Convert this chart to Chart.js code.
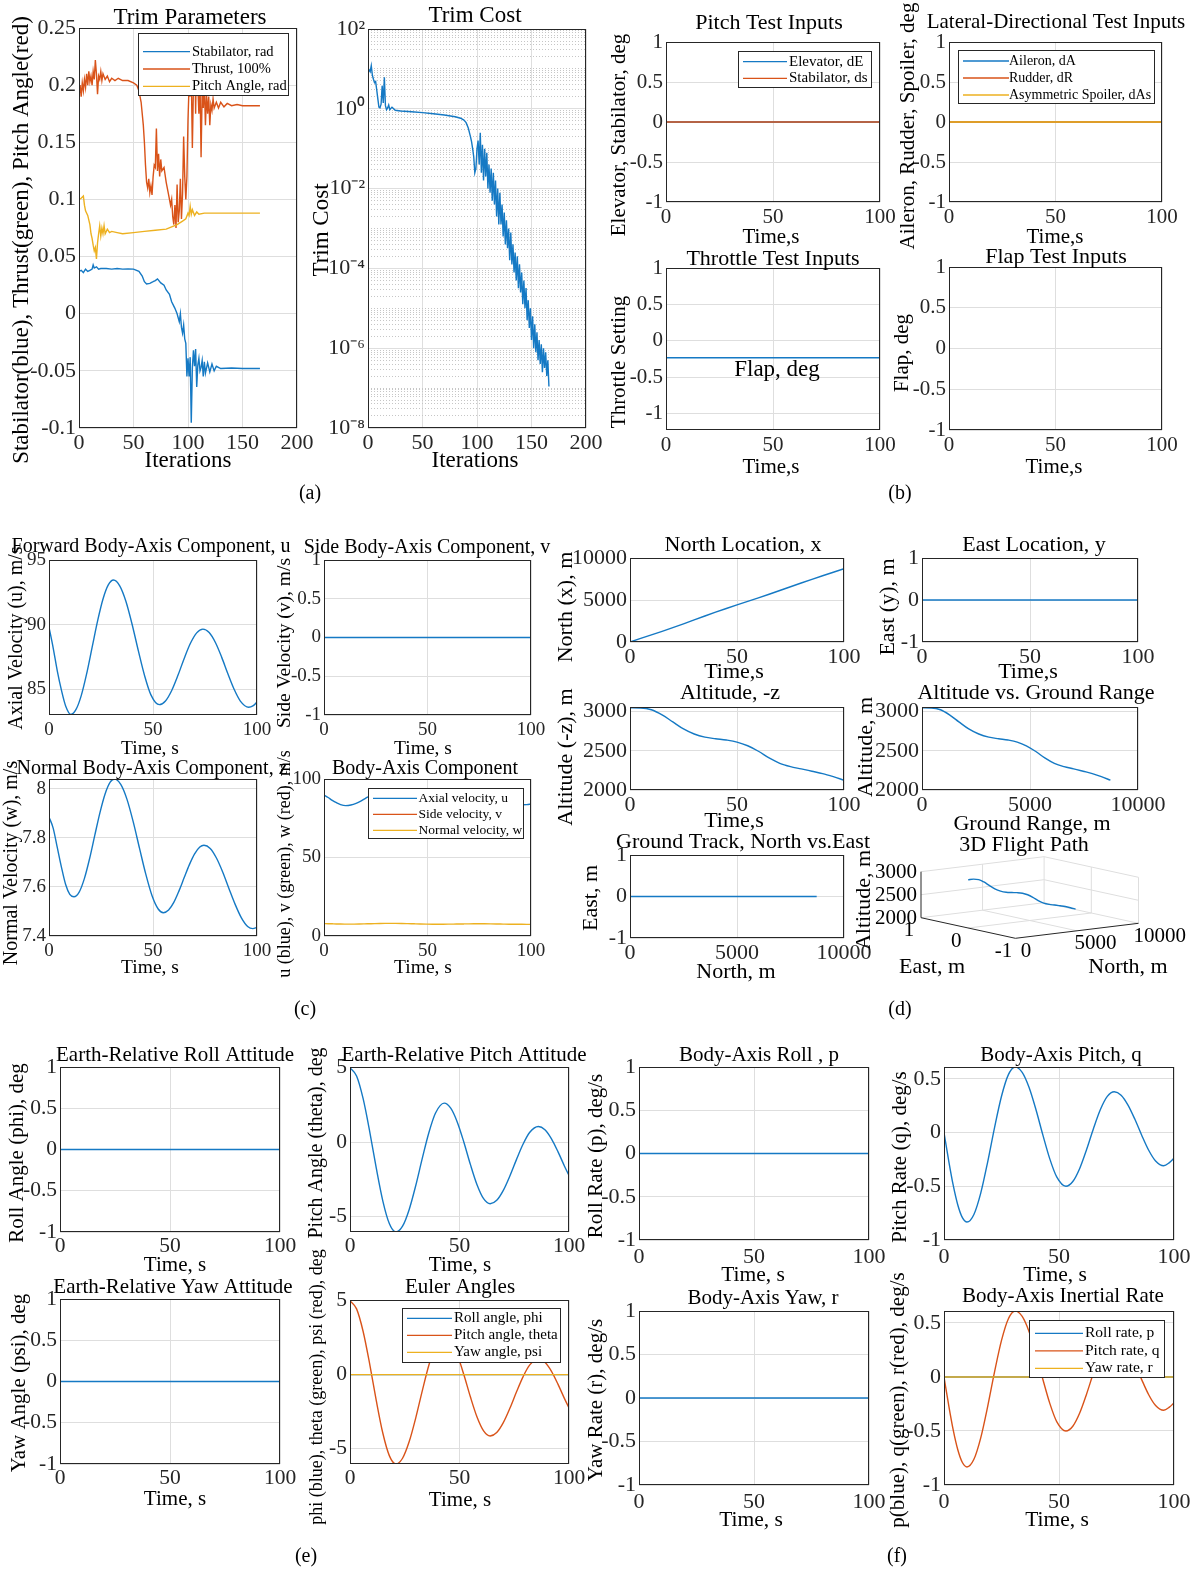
<!DOCTYPE html>
<html>
<head>
<meta charset="utf-8">
<script src="https://cdn.jsdelivr.net/npm/chart.js@4.4.1/dist/chart.umd.min.js"></script>
<style>
html, body { margin: 0; padding: 0; background: #fff; }
#page { position: relative; width: 1200px; height: 1571px; overflow: hidden; background: #fff; font-family: "Liberation Serif", serif; }
#page canvas { position: absolute; }
.tag { position: absolute; font-size: 20px; color: #000; transform: translate(-50%, -50%); white-space: nowrap; }
</style>
</head>
<body>
<div id="page"></div>
<script>
const BLUE = '#1579c4', ORANGE = '#d95319', YELLOW = '#edb120';
const GRID = '#dedede', AXC = '#262626', TXT = '#000';
const FONT = '"Liberation Serif", "Times New Roman", serif';
// margin around every plot box inside its canvas
const M = {l: 90, r: 50, t: 170, b: 170};

// ---------- (a) trim history ----------
const stabIter = [0,2,4,6,8,10,12,13,14,16, 18,20,25,30,35,40,45,50,55,58,
  60,62,65,68,70,72,75,78,80,83, 85,88,90,92,93,94,95,96,97,98,
  99,100,101,102,103,104,105,106,107,108, 109,110,111,112,113,114,115,116,118,120,
  122,124,126,130,140,150,166];
const stabVal = [0.037,0.038,0.036,0.039,0.037,0.038,0.039,0.0427,0.04,0.041,
  0.039,0.0395,0.0395,0.039,0.0395,0.039,0.0392,0.039,0.037,0.033,
  0.028,0.026,0.0266,0.028,0.029,0.0305,0.027,0.025,0.0208,0.017,
  0.0105,0.0047,0.0,-0.007,0.0,-0.012,-0.017,-0.01,-0.022,-0.026,
  -0.055,-0.039,-0.055,-0.038,-0.0955,-0.047,-0.032,-0.046,-0.031,-0.064,
  -0.045,-0.039,-0.05,-0.047,-0.041,-0.055,-0.042,-0.052,-0.043,-0.051,
  -0.044,-0.05,-0.046,-0.048,-0.0475,-0.048,-0.048];

const thrustIter = [0,1,2,3,4,5,6,7,8,9,10,11,12,13,14,15,16,17,18,19,20,21,22,
  24,26,28,30,33,36,40,45,50,53,55,57,59,
  60,61,62,63,64,65,66,67,68,69,70,71,72,73,74,75,76,
  78,80,82,84,
  85,86,87,88,89,90,91,92,93,94,95,96,97,98,99,
  100,101,102,103,104,105,106,107,108,109,110,111,112,113,114,115,116,117,118,119,120,121,122,123,124,
  126,128,130,133,136,140,145,150,166];
const thrustVal = [0.19,0.2,0.19,0.202,0.195,0.205,0.198,0.21,0.2,0.212,0.203,0.208,0.2,0.212,0.205,0.222,0.21,0.192,0.208,0.205,0.212,0.204,0.21,
  0.205,0.208,0.203,0.206,0.204,0.206,0.204,0.204,0.202,0.2,0.195,0.185,0.165,
  0.15,0.13,0.115,0.11,0.118,0.106,0.112,0.104,0.12,0.13,0.128,0.162,0.125,0.14,0.12,0.135,0.125,
  0.128,0.115,0.105,0.095,
  0.1,0.085,0.078,0.095,0.075,0.113,0.08,0.09,0.118,0.083,0.105,0.155,0.12,0.1,0.12,
  0.17,0.2,0.19,0.21,0.145,0.2,0.245,0.175,0.24,0.2,0.175,0.205,0.137,0.195,0.18,0.2,0.165,0.192,0.175,0.19,0.165,0.183,0.178,0.188,0.18,
  0.185,0.18,0.185,0.181,0.184,0.182,0.183,0.182,0.182];

const pitchIter = [0,2,4,5,6,8,10,11,12,13,14,15,16,17,18,19,20,21,22,23,24,26,28,30,35,40,50,60,70,80,85,90,95,98,100,101,102,103,104,106,108,110,115,120,166];
const pitchVal = [0.1,0.101,0.103,0.095,0.09,0.086,0.078,0.07,0.066,0.06,0.055,0.058,0.048,0.062,0.07,0.077,0.068,0.075,0.07,0.077,0.07,0.074,0.071,0.072,0.071,0.07,0.071,0.072,0.073,0.074,0.076,0.078,0.081,0.083,0.088,0.086,0.094,0.087,0.091,0.086,0.089,0.087,0.088,0.088,0.088];

const costIter = [0,1,2,3,4,5,6,7,8,9,10,11,12,13,14,15,16,17,18,19,20,22,25,30,40,50,60,70,80,85,88,90,92,94,95,96,97,98,99,
  100,101,102,103,104,105,106,107,108,109,110,111,112,113,114,115,116,117,118,119,
  120,121,122,123,124,125,126,127,128,129,130,131,132,133,134,135,136,137,138,139,
  140,141,142,143,144,145,146,147,148,149,150,151,152,153,154,155,156,157,158,159,
  160,161,162,163,164,165,166];
const costVal = [8,9.5,8.5,12,7,5.5,4.5,4.8,3,1.8,1.1,1.05,1.3,3.8,1.4,6.2,1.2,0.95,1.05,1.25,0.95,1.1,0.92,0.88,0.84,0.8,0.75,0.7,0.63,0.58,0.52,0.45,0.33,0.2,0.15,0.1,0.063,0.025,0.032,
  0.1,0.16,0.04,0.25,0.025,0.126,0.016,0.1,0.02,0.079,0.01,0.04,7.9e-3,0.032,5e-3,0.025,4e-3,0.016,2e-3,0.01,
  1.26e-3,7.9e-3,1.26e-3,4e-3,6.3e-4,2.5e-3,4e-4,1.6e-3,3.2e-4,1e-3,1.6e-4,7.9e-4,1.26e-4,4e-4,7.9e-5,2.5e-4,5e-5,2e-4,3.2e-5,1.26e-4,
  2.5e-5,7.9e-5,1.26e-5,5e-5,1e-5,3.2e-5,5e-6,1.6e-5,3.2e-6,1e-5,1.6e-6,6.3e-6,1e-6,4e-6,7.9e-7,2.5e-6,5e-7,1.6e-6,4e-7,1.26e-6,
  2.5e-7,1e-6,3.2e-7,7.9e-7,2e-7,5e-7,1.1e-7];
const costDecades = [-8,-7,-6,-5,-4,-3,-2,-1,0,1];

// ---------- constant test inputs ----------
const zeroT = [0, 100];
const zeroV = [0, 0];
const throttleV = [-0.23, -0.23];

// ---------- (c) body-axis velocities ----------
const tU = [0,2,4,6,8,10.5,13,15.5,18,20.75,23.5,26,28.5,31,34,37,40,43,46,49,53,56,59,62,65,68,71,74,77,80,83,86,89,92,96,98,100];
const uVal = [89.8,88.2,86.4,84.9,83.7,83.05,83.43,84.5,86.12,88.25,90.38,92.0,93.07,93.45,93.0,91.79,89.99,87.94,86.02,84.56,83.8,
  84.09,84.9,86.07,87.38,88.55,89.36,89.65,89.38,88.61,87.48,86.19,84.99,84.08,83.6,83.7,84.0];
const tW = [0,2,4,6,8,10,12,14.5,17,19.5,22,24.5,27,29.5,31.5,34.5,37.5,40.5,43.5,46.5,49.5,52.5,55,57.5,60,62.5,65,67.5,70,72.5,74.5,77.5,80.5,83.5,86.5,89.5,92.5,95.5,98,100];
const wVal = [7.885,7.84,7.76,7.68,7.61,7.57,7.56,7.579,7.634,7.715,7.81,7.903,7.98,8.028,8.04,8.018,7.957,7.865,7.758,7.653,7.565,7.51,7.495,
  7.506,7.537,7.584,7.638,7.691,7.735,7.763,7.77,7.757,7.718,7.661,7.594,7.529,7.474,7.439,7.43,7.435];

// ---------- (d) position ----------
const tPos = [0,5,10,15,20,25,30,35,40,45,50,55,60,65,70,75,80,85,90,95,100];
const north = [0,435,855,1273,1708,2163,2628,3093,3548,3985,4410,4830,5252,5685,6128,6576,7021,7458,7885,8305,8723];
const eastPos = [0,0,0,0,0,0,0,0,0,0,0,0,0,0,0,0,0,0,0,0,0];
const altitude = [3050,3048,3025,2960,2870,2780,2715,2675,2655,2638,2612,2565,2495,2410,2340,2298,2270,2240,2210,2170,2125];

// ---------- (e) attitude, (f) rates ----------
const tTh = [0,3,6,9,12,15,18,21,24,27,30,33,36,39,43,46,49,52,55,58,61,64,67,70,73,76,79,82,86,89,92,95,98,100];
const thVal = [5.0,4.45,2.92,0.71,-1.76,-3.97,-5.5,-6.05,-5.66,-4.55,-2.94,-1.1,0.63,1.94,2.62,2.28,1.34,-0.01,-1.52,-2.87,-3.81,-4.15,
  -3.92,-3.25,-2.28,-1.18,-0.15,0.64,1.05,0.83,0.22,-0.66,-1.64,-2.25];
const tQ = [0,2,4,6,8,10,13,16,19,22,25,28,31,34,37,40,43,46,49,53,56,59,62,65,68,71,74,77,80,83,86,89,92,95.5,98,100];
const qVal = [0,-0.257,-0.49,-0.674,-0.792,-0.833,-0.762,-0.561,-0.272,0.049,0.338,0.539,0.61,0.56,0.419,0.212,-0.024,-0.245,-0.413,-0.5,
  -0.456,-0.334,-0.158,0.038,0.214,0.336,0.38,0.348,0.256,0.123,-0.027,-0.165,-0.265,-0.309,-0.28,-0.24];

// tick sets
const T100 = [0, 50, 100];
const T200 = [0, 50, 100, 150, 200];
const T10k = [0, 5000, 10000];
const U1 = [-1, -0.5, 0, 0.5, 1];
const U1c = [-1, 0, 1];
const trimTicks = [-0.1, -0.05, 0, 0.05, 0.1, 0.15, 0.2, 0.25];

const page = document.getElementById('page');
Chart.defaults.font.family = FONT;

function line(xs, ys, color, label, smooth) {
  return {
    label: label,
    data: xs.map((x, i) => ({x: x, y: ys[i]})),
    borderColor: color, backgroundColor: color,
    borderWidth: 1.4, pointRadius: 0, showLine: true, fill: false,
    cubicInterpolationMode: smooth ? 'monotone' : 'default', tension: 0
  };
}

function put(ctx, s, x, y, size, align, rot) {
  ctx.save();
  ctx.translate(x, y);
  if (rot) ctx.rotate(-Math.PI / 2);
  ctx.font = size + 'px ' + FONT;
  ctx.fillStyle = TXT;
  ctx.textAlign = align || 'center';
  ctx.textBaseline = 'middle';
  ctx.fillText(s, 0, 0);
  ctx.restore();
}

// matlab style box, legend and texts
function decor(spec) {
  return {
    id: 'decor',
    afterDatasetsDraw(chart) {
      const ctx = chart.ctx, a = chart.chartArea;
      const ox = spec.box.l - M.l, oy = spec.box.t - M.t;
      ctx.save();
      ctx.strokeStyle = AXC; ctx.lineWidth = 1;
      ctx.strokeRect(a.left + 0.5, a.top + 0.5, a.right - a.left - 1, a.bottom - a.top - 1);
      const lg = spec.legend;
      if (lg) {
        ctx.fillStyle = '#fff';
        ctx.fillRect(lg.l - ox, lg.t - oy, lg.r - lg.l, lg.b - lg.t);
        ctx.strokeRect(lg.l - ox + 0.5, lg.t - oy + 0.5, lg.r - lg.l, lg.b - lg.t);
        chart.data.datasets.forEach((d, i) => {
          const y = lg.y0 + i * lg.dy - oy;
          ctx.strokeStyle = d.borderColor; ctx.lineWidth = 1.3;
          ctx.beginPath(); ctx.moveTo(lg.x1 - ox, y); ctx.lineTo(lg.x2 - ox, y); ctx.stroke();
          put(ctx, d.label, lg.tx - ox, y, lg.size, 'left');
        });
      }
      (spec.texts || []).forEach(t => put(ctx, t[0], t[1] - ox, t[2] - oy, t[3], 'center', t[4]));
      ctx.restore();
    }
  };
}

const sup = {'-': '\u207b', '0': '\u2070', '1': '\u00b9', '2': '\u00b2', '4': '\u2074', '6': '\u2076', '8': '\u2078'};
const costTicks = [], costTickText = [];
costDecades.forEach(k => {
  for (let n = 1; n <= 9; n++) {
    costTicks.push(n * Math.pow(10, k));
    costTickText.push(n === 1 && k % 2 === 0 ? '10' + String(k).split('').map(c => sup[c]).join('') : '');
  }
});
costTicks.push(100); costTickText.push('10\u00b2');

function makePlot(spec) {
  const b = spec.box, w = b.r - b.l, h = b.b - b.t;
  const cv = document.createElement('canvas');
  cv.width = w + M.l + M.r; cv.height = h + M.t + M.b;
  cv.style.left = (b.l - M.l) + 'px'; cv.style.top = (b.t - M.t) + 'px';
  page.appendChild(cv);
  const ds = spec.data || [];
  ds.forEach((d, i) => { d.order = ds.length - i; });
  const tf = {family: FONT, size: spec.tick, lineHeight: 1};
  const xs = spec.x || [0, 100, T100];
  const x = {
    type: 'linear', min: xs[0], max: xs[1],
    afterBuildTicks: s => { s.ticks = xs[2].map(v => ({value: v})); },
    afterFit: s => { s.height = M.b; s.paddingLeft = 0; s.paddingRight = 0; },
    ticks: {callback: v => String(v), autoSkip: false, maxRotation: 0, minRotation: 0,
      padding: spec.xpad, color: AXC, font: tf},
    grid: {color: GRID, drawTicks: false},
    border: {display: false}
  };
  let y;
  if (spec.ylog) {
    y = {
      type: 'logarithmic', min: 1e-8, max: 100,
      afterBuildTicks: s => { s.ticks = costTicks.map(v => ({value: v})); },
      afterFit: s => { s.width = M.l; s.paddingTop = 0; s.paddingBottom = 0; },
      ticks: {callback: (v, i) => costTickText[i], autoSkip: false, padding: 3, color: AXC, font: tf},
      grid: {color: c => costTickText[c.index] ? GRID : '#c6c6c6', drawTicks: false},
      border: {display: false, dash: c => costTickText[c.index] ? [] : [1, 2]}
    };
  } else {
    y = {
      type: 'linear', min: spec.y[0], max: spec.y[1],
      afterBuildTicks: s => { s.ticks = spec.y[2].map(v => ({value: v})); },
      afterFit: s => { s.width = M.l; s.paddingTop = 0; s.paddingBottom = 0; },
      ticks: {callback: v => String(v), autoSkip: false, padding: 3, color: AXC, font: tf},
      grid: {color: GRID, drawTicks: false},
      border: {display: false}
    };
  }
  return new Chart(cv, {
    type: 'scatter',
    data: {datasets: ds},
    options: {
      responsive: false, animation: false, devicePixelRatio: 1, events: [],
      layout: {padding: {left: 0, top: M.t, right: M.r, bottom: 0}},
      scales: {x: x, y: y},
      plugins: {legend: {display: false}, tooltip: {enabled: false}}
    },
    plugins: [decor(spec)]
  });
}

// ---------- panel specs ----------
const A = {tick: 22, xpad: 4};
const B = {tick: 21, xpad: 4.5};
const C = {tick: 19, xpad: 5.5};
const D = {tick: 22, xpad: 4};
const E = {tick: 21.5, xpad: 4};
const F = {tick: 22, xpad: 6};

const plots = [
  Object.assign({box: {l: 79, t: 28, r: 297, b: 428}, x: [0, 200, T200], y: [-0.1, 0.25, trimTicks],
    data: [line(stabIter, stabVal, BLUE, 'Stabilator, rad'), line(thrustIter, thrustVal, ORANGE, 'Thrust, 100%'), line(pitchIter, pitchVal, YELLOW, 'Pitch Angle, rad')],
    legend: {l: 138, t: 33, r: 288, b: 95, x1: 143, x2: 190, tx: 192, y0: 51.7, dy: 17.3, size: 14.5},
    texts: [['Trim Parameters', 190, 18, 23], ['Iterations', 188, 461, 23], ['Stabilator(blue), Thrust(green), Pitch Angle(red)', 22, 240, 23, true]]}, A),
  Object.assign({box: {l: 368, t: 29, r: 586, b: 428}, x: [0, 200, T200], ylog: true,
    data: [line(costIter, costVal, BLUE, 'Trim Cost')],
    texts: [['Trim Cost', 475, 16, 23], ['Iterations', 475, 461, 23], ['Trim Cost', 322, 230, 23, true]]}, A),

  Object.assign({box: {l: 666, t: 42, r: 880, b: 202}, y: [-1, 1, U1],
    data: [line(zeroT, zeroV, BLUE, 'Elevator, dE'), line(zeroT, zeroV, ORANGE, 'Stabilator, ds')],
    legend: {l: 738, t: 51, r: 871, b: 87, x1: 743, x2: 787, tx: 789, y0: 61.7, dy: 16.7, size: 15},
    texts: [['Pitch Test Inputs', 769, 23, 22], ['Time,s', 771, 237, 21], ['Elevator, Stabilator, deg', 619, 135, 21, true]]}, B),
  Object.assign({box: {l: 949, t: 42, r: 1162, b: 202}, y: [-1, 1, U1],
    data: [line(zeroT, zeroV, BLUE, 'Aileron, dA'), line(zeroT, zeroV, ORANGE, 'Rudder, dR'), line(zeroT, zeroV, YELLOW, 'Asymmetric Spoiler, dAs')],
    legend: {l: 958, t: 50, r: 1154, b: 103, x1: 963, x2: 1009, tx: 1009, y0: 61, dy: 17, size: 14},
    texts: [['Lateral-Directional Test Inputs', 1056, 22, 21], ['Time,s', 1055, 237, 21], ['Aileron, Rudder, Spoiler, deg', 908, 126, 21, true]]}, B),
  Object.assign({box: {l: 666, t: 268, r: 880, b: 430}, y: [-1.22, 1, U1],
    data: [line(zeroT, throttleV, BLUE, 'Throttle')],
    texts: [['Throttle Test Inputs', 773, 259, 22], ['Time,s', 771, 467, 21], ['Throttle Setting', 619, 362, 21, true], ['Flap, deg', 777, 370, 23]]}, B),
  Object.assign({box: {l: 949, t: 267, r: 1162, b: 430}, y: [-1, 1, U1],
    data: [],
    texts: [['Flap Test Inputs', 1056, 257, 22], ['Time,s', 1054, 467, 21], ['Flap, deg', 902, 353, 21, true]]}, B),

  Object.assign({box: {l: 49, t: 560, r: 257, b: 715}, y: [83, 95, [85, 90, 95]],
    data: [line(tU, uVal, BLUE, 'u', true)],
    texts: [['Forward Body-Axis Component, u', 151, 547, 20], ['Time, s', 150, 749, 19.5], ['Axial Velocity (u), m/s', 17, 638, 20, true]]}, C),
  Object.assign({box: {l: 324, t: 560, r: 531, b: 715}, y: [-1, 1, U1],
    data: [line(zeroT, zeroV, BLUE, 'v')],
    texts: [['Side Body-Axis Component, v', 427, 548, 20], ['Time, s', 423, 749, 19.5], ['Side Velocity (v), m/s', 285, 643, 19.5, true]]}, C),
  Object.assign({box: {l: 49, t: 779, r: 257, b: 936}, y: [7.4, 8.04, [7.4, 7.6, 7.8, 8]],
    data: [line(tW, wVal, BLUE, 'w', true)],
    texts: [['Normal Body-Axis Component, z', 152, 769, 20], ['Time, s', 150, 968, 19.5], ['Normal Velocity (w), m/s', 12, 863, 20, true]]}, C),
  Object.assign({box: {l: 324, t: 779, r: 531, b: 936}, y: [0, 100, [0, 50, 100]],
    data: [line(tU, uVal, BLUE, 'Axial velocity, u', true), line(zeroT, zeroV, ORANGE, 'Side velocity, v'), line(tW, wVal, YELLOW, 'Normal velocity, w', true)],
    legend: {l: 368, t: 788, r: 523, b: 838, x1: 373, x2: 417, tx: 418.5, y0: 798.3, dy: 16, size: 13.5},
    texts: [['Body-Axis Component', 425, 769, 20], ['Time, s', 423, 968, 19.5], ['u (blue), v (green), w (red), m/s', 285, 864, 18, true]]}, C),

  Object.assign({box: {l: 630, t: 558, r: 844, b: 642}, y: [0, 10000, T10k],
    data: [line(tPos, north, BLUE, 'x')],
    texts: [['North Location, x', 743, 545, 22], ['Time,s', 734, 672, 22], ['North (x), m', 566, 607, 22, true]]}, D),
  Object.assign({box: {l: 922, t: 558, r: 1138, b: 642}, y: [-1, 1, U1c],
    data: [line(zeroT, zeroV, BLUE, 'y')],
    texts: [['East Location, y', 1034, 545, 22], ['Time,s', 1028, 672, 22], ['East (y), m', 888, 607, 22, true]]}, D),
  Object.assign({box: {l: 630, t: 707, r: 844, b: 790}, y: [2000, 3060, [2000, 2500, 3000]],
    data: [line(tPos, altitude, BLUE, '-z', true)],
    texts: [['Altitude, -z', 730, 693, 22], ['Time,s', 734, 821, 22], ['Altitude (-z), m', 566, 757, 22, true]]}, D),
  Object.assign({box: {l: 922, t: 707, r: 1138, b: 790}, x: [0, 10000, T10k], y: [2000, 3060, [2000, 2500, 3000]],
    data: [line(north, altitude, BLUE, 'alt', true)],
    texts: [['Altitude vs. Ground Range', 1036, 693, 22], ['Ground Range, m', 1032, 824, 22], ['Altitude, m', 866, 747, 22, true]]}, D),
  Object.assign({box: {l: 630, t: 855, r: 844, b: 938}, x: [0, 10000, T10k], y: [-1, 1, U1c],
    data: [line(north, eastPos, BLUE, 'track')],
    texts: [['Ground Track, North vs.East', 743, 842, 22], ['North, m', 736, 972, 22], ['East, m', 591, 898, 22, true]]}, D),

  Object.assign({box: {l: 60, t: 1067, r: 280, b: 1232}, y: [-1, 1, U1],
    data: [line(zeroT, zeroV, BLUE, 'phi')],
    texts: [['Earth-Relative Roll Attitude', 175, 1055, 21], ['Time, s', 175, 1265, 21], ['Roll Angle (phi), deg', 17, 1153, 21, true]]}, E),
  Object.assign({box: {l: 350, t: 1067, r: 569, b: 1232}, y: [-6.05, 5.05, [-5, 0, 5]],
    data: [line(tTh, thVal, BLUE, 'theta', true)],
    texts: [['Earth-Relative Pitch Attitude', 464, 1055, 21], ['Time, s', 460, 1265, 21], ['Pitch Angle (theta), deg', 317, 1143, 20, true]]}, E),
  Object.assign({box: {l: 60, t: 1299, r: 280, b: 1464}, y: [-1, 1, U1],
    data: [line(zeroT, zeroV, BLUE, 'psi')],
    texts: [['Earth-Relative Yaw Attitude', 173, 1287, 21], ['Time, s', 175, 1499, 21], ['Yaw Angle (psi), deg', 19, 1383, 21, true]]}, E),
  Object.assign({box: {l: 350, t: 1300, r: 569, b: 1464}, y: [-6.05, 5.05, [-5, 0, 5]],
    data: [line(zeroT, zeroV, BLUE, 'Roll angle, phi'), line(tTh, thVal, ORANGE, 'Pitch angle, theta', true), line(zeroT, zeroV, YELLOW, 'Yaw angle, psi')],
    legend: {l: 402, t: 1308, r: 560, b: 1362, x1: 407, x2: 452, tx: 454, y0: 1318.3, dy: 17, size: 15},
    texts: [['Euler Angles', 460, 1287, 21], ['Time, s', 460, 1500, 21], ['phi (blue), theta (green), psi (red), deg', 317, 1387, 18, true]]}, E),

  Object.assign({box: {l: 639, t: 1067, r: 869, b: 1240}, y: [-1, 1, U1],
    data: [line(zeroT, zeroV, BLUE, 'p')],
    texts: [['Body-Axis Roll , p', 759, 1055, 21], ['Time, s', 753, 1275, 21.5], ['Roll Rate (p), deg/s', 596, 1156, 21, true]]}, F),
  Object.assign({box: {l: 944, t: 1067, r: 1174, b: 1240}, y: [-1, 0.61, [-1, -0.5, 0, 0.5]],
    data: [line(tQ, qVal, BLUE, 'q', true)],
    texts: [['Body-Axis Pitch, q', 1061, 1055, 21], ['Time, s', 1055, 1275, 21.5], ['Pitch Rate (q), deg/s', 900, 1157, 21, true]]}, F),
  Object.assign({box: {l: 639, t: 1311, r: 869, b: 1485}, y: [-1, 1, U1],
    data: [line(zeroT, zeroV, BLUE, 'r')],
    texts: [['Body-Axis Yaw, r', 763, 1298, 21], ['Time, s', 751, 1520, 21.5], ['Yaw Rate (r), deg/s', 596, 1400, 21, true]]}, F),
  Object.assign({box: {l: 944, t: 1311, r: 1174, b: 1485}, y: [-1, 0.61, [-1, -0.5, 0, 0.5]],
    data: [line(zeroT, zeroV, BLUE, 'Roll rate, p'), line(tQ, qVal, ORANGE, 'Pitch rate, q', true), line(zeroT, zeroV, YELLOW, 'Yaw rate, r')],
    legend: {l: 1029, t: 1320, r: 1164, b: 1377, x1: 1035, x2: 1083, tx: 1085, y0: 1333.3, dy: 17.5, size: 15.5},
    texts: [['Body-Axis Inertial Rate', 1063, 1296, 21], ['Time, s', 1057, 1520, 21.5], ['p(blue), q(green), r(red), deg/s', 898, 1400, 21, true]]}, F)
];
plots.forEach(makePlot);

// ---------- 3D flight path (fixed oblique view) ----------
const V3 = {l: 850, t: 812, w: 350, h: 180};
function proj(e, n, a) {
  return {x: 968.2 - 47.2 * e + 0.01231 * n, y: 928 - 10.3 * e - 0.0015 * n - 0.046 * (a - 2000)};
}
const grid3d = [
  [[1, 0, 2500], [1, 10000, 2500]], [[1, 0, 3000], [1, 10000, 3000]], [[1, 0, 2000], [1, 10000, 2000]],
  [[1, 5000, 2000], [1, 5000, 3000]], [[1, 10000, 2000], [1, 10000, 3000]],
  [[1, 10000, 2500], [-1, 10000, 2500]], [[1, 10000, 3000], [-1, 10000, 3000]], [[1, 10000, 2000], [-1, 10000, 2000]],
  [[0, 10000, 2000], [0, 10000, 3000]], [[-1, 10000, 2000], [-1, 10000, 3000]],
  [[1, 5000, 2000], [-1, 5000, 2000]], [[0, 0, 2000], [0, 10000, 2000]]
];
const axes3d = [
  [[1, 0, 2000], [-1, 0, 2000]], [[-1, 0, 2000], [-1, 10000, 2000]], [[1, 0, 2000], [1, 0, 3000]]
];
const flight = north.map((n, i) => proj(eastPos[i], n, altitude[i]));

const box3d = {
  id: 'box3d',
  beforeDatasetsDraw(chart) {
    const ctx = chart.ctx, sx = chart.scales.x, sy = chart.scales.y;
    const P = q => { const p = proj(q[0], q[1], q[2]); return [sx.getPixelForValue(p.x), sy.getPixelForValue(p.y)]; };
    ctx.save();
    ctx.lineWidth = 1;
    [[grid3d, GRID], [axes3d, AXC]].forEach(([segs, col]) => {
      ctx.strokeStyle = col;
      segs.forEach(s => {
        const a = P(s[0]), b = P(s[1]);
        ctx.beginPath(); ctx.moveTo(a[0], a[1]); ctx.lineTo(b[0], b[1]); ctx.stroke();
      });
    });
    ctx.restore();
  },
  afterDatasetsDraw(chart) {
    const ctx = chart.ctx, sx = chart.scales.x, sy = chart.scales.y;
    const X = v => sx.getPixelForValue(v), Y = v => sy.getPixelForValue(v);
    [2000, 2500, 3000].forEach(a => { const p = proj(1, 0, a); put(ctx, String(a), X(p.x - 4), Y(p.y + 1), 21, 'right'); });
    [1, 0, -1].forEach(e => { const p = proj(e, 0, 2000); put(ctx, String(e), X(p.x - 12), Y(p.y + 13), 21); });
    ctx.font = '21px ' + FONT;
    [0, 5000, 10000].forEach(n => {
      const p = proj(-1, n, 2000), wd = ctx.measureText(String(n)).width;
      put(ctx, String(n), X(p.x + 8 + wd * 0.25), Y(p.y + 13), 21);
    });
    put(ctx, '3D Flight Path', X(1024), Y(845), 22);
    put(ctx, 'East, m', X(932), Y(967), 22);
    put(ctx, 'North, m', X(1128), Y(967), 22);
    put(ctx, 'Altitude, m', X(864), Y(900), 22, 'center', true);
  }
};

(function make3D() {
  const cv = document.createElement('canvas');
  cv.width = V3.w; cv.height = V3.h;
  cv.style.left = V3.l + 'px'; cv.style.top = V3.t + 'px';
  page.appendChild(cv);
  new Chart(cv, {
    type: 'scatter',
    data: {datasets: [line(flight.map(p => p.x), flight.map(p => p.y), BLUE, '3D path', true)]},
    options: {
      responsive: false, animation: false, devicePixelRatio: 1, events: [],
      layout: {padding: 0},
      scales: {
        x: {type: 'linear', display: false, min: V3.l, max: V3.l + V3.w},
        y: {type: 'linear', display: false, min: V3.t, max: V3.t + V3.h, reverse: true}
      },
      plugins: {legend: {display: false}, tooltip: {enabled: false}}
    },
    plugins: [box3d]
  });
})();

// sub-figure tags
[['(a)', 310, 492], ['(b)', 900, 492], ['(c)', 305, 1008], ['(d)', 900, 1008], ['(e)', 306, 1555], ['(f)', 897, 1555]].forEach(t => {
  const d = document.createElement('div');
  d.className = 'tag';
  d.textContent = t[0];
  d.style.left = t[1] + 'px'; d.style.top = t[2] + 'px';
  page.appendChild(d);
});
</script>
</body>
</html>
